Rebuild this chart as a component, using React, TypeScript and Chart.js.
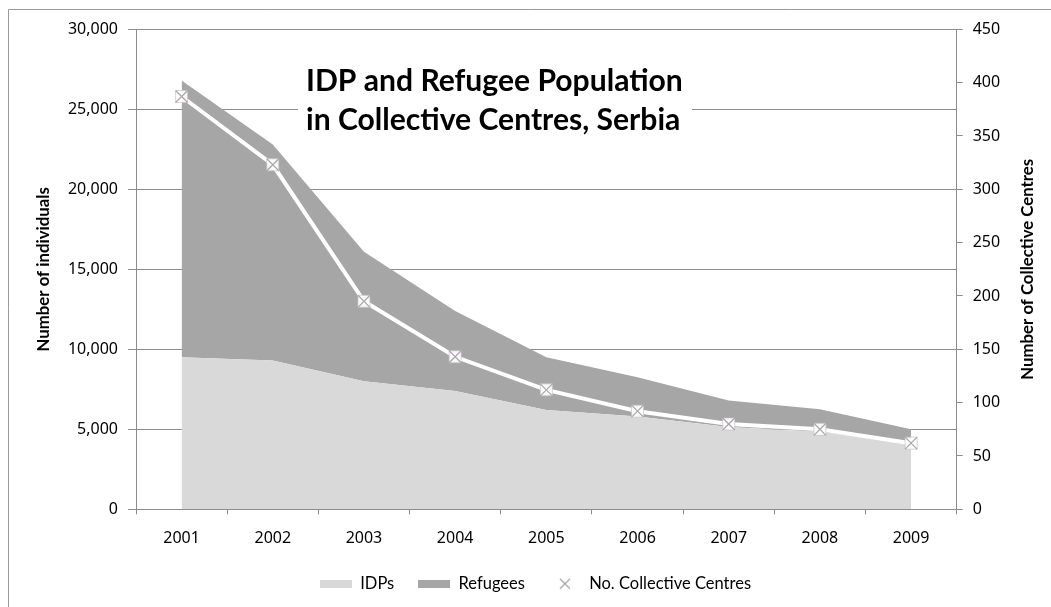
import React, { useEffect, useRef } from 'react';
import { Chart, registerables } from 'chart.js';

Chart.register(...registerables);

const W = 1051;
const H = 607;

const years = ['2001', '2002', '2003', '2004', '2005', '2006', '2007', '2008', '2009'];
const idps = [9500, 9300, 8000, 7400, 6200, 5800, 5150, 4850, 4100];
const refugees = [17300, 13500, 8100, 5000, 3300, 2450, 1650, 1400, 900];
const centres = [387, 323, 195, 143, 112, 92, 80, 75, 62];

const titleLines = ['IDP and Refugee Population', 'in Collective Centres, Serbia'];
const leftAxisTitle = 'Number of individuals';
const rightAxisTitle = 'Number of Collective Centres';
const legendLabels = ['IDPs', 'Refugees', 'No. Collective Centres'];

const C_IDP = '#d9d9d9';
const C_REF = '#a6a6a6';
const C_GRID = '#8c8c8c';
const C_CROSS = '#a9a6aa';

const AREA = { left: 136, right: 956.7, top: 29.3, bottom: 509.3 };
const PAD_L = 20;

function swatch(color: string): HTMLCanvasElement {
  const c = document.createElement('canvas');
  c.width = 32;
  c.height = 8;
  const g = c.getContext('2d')!;
  g.fillStyle = color;
  g.fillRect(0, 0, 32, 8);
  return c;
}

function crossIcon(): HTMLCanvasElement {
  const c = document.createElement('canvas');
  c.width = 32;
  c.height = 12;
  const g = c.getContext('2d')!;
  g.strokeStyle = '#a0a0a0';
  g.lineWidth = 1.1;
  g.beginPath();
  g.moveTo(11, 1);
  g.lineTo(21, 11);
  g.moveTo(21, 1);
  g.lineTo(11, 11);
  g.stroke();
  return c;
}

const decorPlugin = {
  id: 'decor',
  beforeDraw(chart: any) {
    const ctx = chart.ctx;
    ctx.save();
    ctx.strokeStyle = '#9a9a9a';
    ctx.lineWidth = 1;
    ctx.beginPath();
    ctx.moveTo(8.5, H);
    ctx.lineTo(8.5, 9.5);
    ctx.lineTo(W, 9.5);
    ctx.stroke();
    ctx.restore();
  },
  beforeDatasetsDraw(chart: any) {
    const ctx = chart.ctx;
    ctx.save();
    ctx.fillStyle = '#ffffff';
    ctx.fillRect(298, 60, 394, 82);
    ctx.font = 'bold 100px Lato';
    const w = ctx.measureText(titleLines[0]).width;
    const size = (100 * 377) / w;
    ctx.font = `bold ${size}px Lato`;
    ctx.fillStyle = '#000';
    ctx.textAlign = 'left';
    ctx.textBaseline = 'alphabetic';
    ctx.fillText(titleLines[0], 306, 91);
    ctx.fillText(titleLines[1], 306, 129.5);
    ctx.restore();
  },
  afterDraw(chart: any) {
    const ctx = chart.ctx;
    const { top, bottom } = chart.chartArea;
    const midY = (top + bottom) / 2;
    ctx.save();
    ctx.font = 'bold 16.8px Lato';
    ctx.fillStyle = '#000';
    ctx.textAlign = 'center';
    ctx.textBaseline = 'middle';
    ctx.save();
    ctx.translate(43.5, midY);
    ctx.rotate(-Math.PI / 2);
    ctx.fillText(leftAxisTitle, 0, 0);
    ctx.restore();
    ctx.save();
    ctx.translate(1028, midY);
    ctx.rotate(-Math.PI / 2);
    ctx.fillText(rightAxisTitle, 0, 0);
    ctx.restore();
    ctx.restore();
  },
};

export default function App() {
  const ref = useRef<HTMLCanvasElement | null>(null);

  useEffect(() => {
    if (!ref.current) return;
    const icons = [swatch(C_IDP), swatch(C_REF), crossIcon()];
    const padB = 5;
    const chart = new Chart(ref.current, {
      type: 'line',
      data: {
        labels: years,
        datasets: [
          {
            label: legendLabels[2],
            data: centres,
            yAxisID: 'y1',
            showLine: false,
            pointStyle: 'crossRot',
            pointRadius: 8.5,
            pointBorderColor: C_CROSS,
            pointBorderWidth: 1.2,
            pointBackgroundColor: 'rgba(0,0,0,0)',
            order: 1,
          },
          {
            label: 'markerBox',
            data: centres,
            yAxisID: 'y1',
            showLine: false,
            pointStyle: 'rect',
            pointRadius: 8.5,
            pointBorderColor: 'rgba(200,192,200,0.7)',
            pointBorderWidth: 1,
            pointBackgroundColor: 'rgba(255,255,255,0.92)',
            order: 2,
          },
          {
            label: 'centresLine',
            data: centres,
            yAxisID: 'y1',
            borderColor: '#ffffff',
            borderWidth: 4,
            pointRadius: 0,
            fill: false,
            tension: 0,
            order: 3,
          },
          {
            label: legendLabels[0],
            data: idps,
            yAxisID: 'y',
            backgroundColor: C_IDP,
            borderColor: C_IDP,
            borderWidth: 0,
            pointRadius: 0,
            fill: 'origin',
            tension: 0,
            order: 5,
          },
          {
            label: legendLabels[1],
            data: refugees,
            yAxisID: 'y',
            backgroundColor: C_REF,
            borderColor: C_REF,
            borderWidth: 0,
            pointRadius: 0,
            fill: '-1',
            tension: 0,
            order: 6,
          },
        ],
      } as any,
      options: {
        responsive: false,
        animation: false,
        devicePixelRatio: 1,
        locale: 'en-US',
        layout: { padding: { left: PAD_L, right: 0, top: AREA.top, bottom: padB } },
        plugins: {
          tooltip: { enabled: false },
          title: { display: false },
          legend: {
            display: true,
            position: 'bottom',
            labels: {
              usePointStyle: true,
              pointStyleWidth: 32,
              boxHeight: 8,
              padding: 24,
              color: '#000',
              font: { family: 'Lato', size: 16.5 },
              generateLabels: () => [
                { text: legendLabels[0], pointStyle: icons[0], datasetIndex: 3, fillStyle: C_IDP, strokeStyle: C_IDP, lineWidth: 0, hidden: false },
                { text: legendLabels[1], pointStyle: icons[1], datasetIndex: 4, fillStyle: C_REF, strokeStyle: C_REF, lineWidth: 0, hidden: false },
                { text: legendLabels[2], pointStyle: icons[2], datasetIndex: 0, fillStyle: 'transparent', strokeStyle: C_CROSS, lineWidth: 1, hidden: false },
              ] as any,
            },
          },
        },
        scales: {
          x: {
            type: 'category',
            offset: true,
            grid: { offset: true, drawOnChartArea: false, drawTicks: true, tickLength: 5, color: C_GRID },
            border: { display: true, color: C_GRID },
            ticks: { color: '#000', font: { family: 'Noto Sans', size: 16 }, padding: 15, maxRotation: 0 },
            afterFit: (s: any) => {
              const lh = s.chart.legend ? s.chart.legend.height : 0;
              s.height = H - AREA.bottom - lh - padB;
            },
          },
          y: {
            type: 'linear',
            position: 'left',
            stacked: true,
            min: 0,
            max: 30000,
            ticks: { stepSize: 5000, color: '#000', font: { family: 'Noto Sans', size: 16 }, padding: 10 },
            grid: { color: C_GRID, tickLength: 8, drawTicks: true },
            border: { display: true, color: C_GRID },
            afterFit: (s: any) => {
              s.width = AREA.left - PAD_L;
            },
          },
          y1: {
            type: 'linear',
            position: 'right',
            min: 0,
            max: 450,
            ticks: { stepSize: 50, color: '#000', font: { family: 'Noto Sans', size: 16 }, padding: 10 },
            grid: { drawOnChartArea: false, tickLength: 6, drawTicks: true, color: C_GRID },
            border: { display: true, color: C_GRID },
            afterFit: (s: any) => {
              s.width = W - AREA.right;
            },
          },
        },
      } as any,
      plugins: [decorPlugin],
    });
    return () => chart.destroy();
  }, []);

  return (
    <div style={{ position: 'absolute', left: 0, top: 0, width: W, height: H, background: '#fff' }}>
      <canvas ref={ref} width={W} height={H} style={{ width: W, height: H, display: 'block' }} />
    </div>
  );
}
